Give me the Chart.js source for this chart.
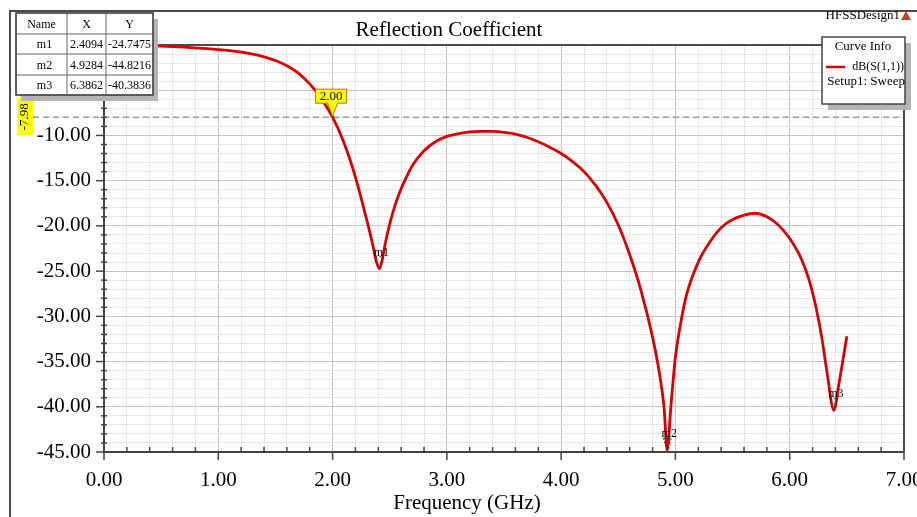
<!DOCTYPE html>
<html><head><meta charset="utf-8">
<script src="https://cdn.jsdelivr.net/npm/chart.js@4.4.0/dist/chart.umd.min.js"></script>
<style>html,body{margin:0;padding:0;background:#fff;overflow:hidden}</style>
</head><body>
<canvas id="c" width="917" height="517"></canvas>
<script>
// ---- data ----
const freqGHz = [0.1,0.3,0.5,0.7,0.9,1.0,1.1,1.2,1.3,1.4,1.5,1.6,1.7,1.8,1.9,2.0,2.1,2.2,2.3,2.35,2.38,2.4094,2.43,2.46,2.5,2.55,2.6,2.65,2.7,2.8,2.9,3.0,3.1,3.2,3.3,3.4,3.5,3.6,3.7,3.8,3.9,4.0,4.1,4.2,4.3,4.4,4.5,4.6,4.7,4.8,4.86,4.9,4.9284,4.96,5.0,5.05,5.1,5.2,5.3,5.4,5.5,5.6,5.7,5.8,5.9,6.0,6.1,6.17,6.23,6.28,6.33,6.3862,6.43,6.47,6.5];
const s11dB = [-0.02,-0.06,-0.13,-0.24,-0.4,-0.5,-0.63,-0.8,-1.02,-1.32,-1.72,-2.3,-3.1,-4.3,-5.9,-7.98,-10.8,-14.6,-19.4,-22.0,-23.8,-24.7475,-24.0,-22.0,-19.8,-17.6,-15.9,-14.5,-13.3,-11.7,-10.7,-10.1,-9.8,-9.6,-9.55,-9.55,-9.65,-9.85,-10.2,-10.7,-11.3,-12.0,-12.9,-14.0,-15.5,-17.4,-19.9,-23.2,-27.2,-32.3,-36.3,-40.0,-44.8216,-40.0,-34.5,-30.5,-27.5,-24.0,-21.8,-20.2,-19.3,-18.8,-18.6,-19.0,-19.9,-21.4,-23.6,-26.0,-29.0,-32.3,-36.5,-40.3836,-37.5,-34.5,-32.2];
const markerNames = ['m1','m2','m3'];
const markerX = [2.4094, 4.9284, 6.3862];
const markerY = [-24.7475, -44.8216, -40.3836];
const cutFreq = 2.00;
const cutLevel = -7.98;
const xMajorTicks = [0,1,2,3,4,5,6,7];
const yMajorTicks = [-45,-40,-35,-30,-25,-20,-15,-10];
const seriesName = 'dB(S(1,1))';
const setupName = 'Setup1: Sweep';

const SERIF = "'Liberation Serif', 'Times New Roman', serif";
const isXMajor = v => xMajorTicks.some(t => Math.abs(t - v) < 1e-6);
const isYMajor = v => Math.abs(v / 5 - Math.round(v / 5)) < 1e-6;

const overlay = {
  id: 'overlay',
  beforeDatasetsDraw(chart) {
    const ctx = chart.ctx, a = chart.chartArea;
    const xs = chart.scales.x, ys = chart.scales.y;
    ctx.save();
    // dashed cut line
    const yc = ys.getPixelForValue(cutLevel);
    ctx.strokeStyle = '#9a9a9a'; ctx.lineWidth = 1.5; ctx.setLineDash([6,4]);
    ctx.beginPath(); ctx.moveTo(33, yc); ctx.lineTo(a.right, yc); ctx.stroke();
    ctx.setLineDash([]);
    // tick marks
    ctx.strokeStyle = '#444'; ctx.lineWidth = 1.5;
    xs.ticks.forEach(t => {
      const px = xs.getPixelForValue(t.value);
      ctx.beginPath();
      if (isXMajor(t.value)) { ctx.moveTo(px, a.bottom); ctx.lineTo(px, a.bottom + 8); }
      else { ctx.moveTo(px, a.bottom); ctx.lineTo(px, a.bottom - 5); }
      ctx.stroke();
    });
    ys.ticks.forEach(t => {
      const py = ys.getPixelForValue(t.value);
      ctx.beginPath();
      if (isYMajor(t.value)) { ctx.moveTo(a.left - 8, py); ctx.lineTo(a.left, py); }
      else { ctx.moveTo(a.left - 3, py); ctx.lineTo(a.left + 3, py); }
      ctx.stroke();
    });
    // plot frame top/right
    ctx.strokeStyle = '#4a4a4a'; ctx.lineWidth = 2;
    ctx.beginPath(); ctx.moveTo(a.left, a.top); ctx.lineTo(a.right, a.top); ctx.lineTo(a.right, a.bottom); ctx.stroke();
    ctx.restore();
  },
  afterDraw(chart) {
    const ctx = chart.ctx, a = chart.chartArea;
    const xs = chart.scales.x, ys = chart.scales.y;
    ctx.save();
    // outer frame
    ctx.strokeStyle = '#4a4a4a'; ctx.lineWidth = 2;
    ctx.beginPath(); ctx.moveTo(917, 11); ctx.lineTo(10, 11); ctx.lineTo(10, 517); ctx.stroke();
    // titles
    ctx.fillStyle = '#000'; ctx.textAlign = 'center'; ctx.textBaseline = 'middle';
    ctx.font = '21px ' + SERIF;
    ctx.fillText('Reflection Coefficient', 449, 30);
    ctx.fillText('Frequency (GHz)', 467, 503);
    // HFSSDesign1
    ctx.font = '13px ' + SERIF; ctx.textAlign = 'right';
    ctx.fillText('HFSSDesign1', 900, 16);
    ctx.fillStyle = '#d23c1e';
    ctx.beginPath(); ctx.moveTo(906, 11); ctx.lineTo(911, 20); ctx.lineTo(901, 20); ctx.closePath(); ctx.fill();
    // markers on curve
    ctx.font = '12px ' + SERIF; ctx.textAlign = 'center'; ctx.textBaseline = 'alphabetic';
    markerNames.forEach((n, i) => {
      const px = xs.getPixelForValue(markerX[i]), py = ys.getPixelForValue(markerY[i]);
      ctx.strokeStyle = '#333'; ctx.lineWidth = 1; ctx.setLineDash([2,2]);
      ctx.beginPath(); ctx.moveTo(px - 4, py - 12); ctx.lineTo(px + 4, py - 12); ctx.lineTo(px, py); ctx.closePath(); ctx.stroke();
      ctx.setLineDash([]);
      ctx.fillStyle = '#000';
      ctx.fillText(n, px + 2, py - 13);
    });
    // cut callout "2.00"
    const cx = xs.getPixelForValue(cutFreq), cy = ys.getPixelForValue(cutLevel);
    ctx.fillStyle = '#ffff00'; ctx.strokeStyle = '#c07010'; ctx.lineWidth = 1;
    ctx.beginPath();
    ctx.moveTo(cx - 17, cy - 28); ctx.lineTo(cx + 14, cy - 28); ctx.lineTo(cx + 14, cy - 14);
    ctx.lineTo(cx + 5, cy - 14); ctx.lineTo(cx, cy - 1); ctx.lineTo(cx - 5, cy - 14);
    ctx.lineTo(cx - 17, cy - 14); ctx.closePath(); ctx.fill(); ctx.stroke();
    ctx.fillStyle = '#000'; ctx.font = '13px ' + SERIF; ctx.textBaseline = 'middle';
    ctx.fillText(cutFreq.toFixed(2), cx - 1.5, cy - 21);
    // level label "-7.98"
    ctx.fillStyle = '#ffff00';
    ctx.fillRect(17, cy - 19, 16, 37);
    ctx.save(); ctx.translate(25, cy - 0.5); ctx.rotate(-Math.PI / 2);
    ctx.fillStyle = '#000'; ctx.fillText(cutLevel.toFixed(2), 0, 0); ctx.restore();
    // marker table
    const cols = [16, 67, 106, 153], rows = [13, 34, 54, 75, 95];
    ctx.fillStyle = '#b4b4b4'; ctx.fillRect(cols[0] + 5, rows[0] + 6, cols[3] - cols[0], rows[4] - rows[0]);
    ctx.fillStyle = '#fff'; ctx.fillRect(cols[0], rows[0], cols[3] - cols[0], rows[4] - rows[0]);
    ctx.strokeStyle = '#666'; ctx.lineWidth = 1;
    cols.forEach(x => { ctx.beginPath(); ctx.moveTo(x, rows[0]); ctx.lineTo(x, rows[4]); ctx.stroke(); });
    rows.forEach(y => { ctx.beginPath(); ctx.moveTo(cols[0], y); ctx.lineTo(cols[3], y); ctx.stroke(); });
    ctx.strokeStyle = '#444'; ctx.lineWidth = 1.5;
    ctx.strokeRect(cols[0], rows[0], cols[3] - cols[0], rows[4] - rows[0]);
    ctx.fillStyle = '#000'; ctx.font = '12px ' + SERIF; ctx.textAlign = 'center'; ctx.textBaseline = 'middle';
    const hdr = ['Name', 'X', 'Y'];
    hdr.forEach((h, j) => ctx.fillText(h, (cols[j] + cols[j + 1]) / 2, (rows[0] + rows[1]) / 2 + 1));
    markerNames.forEach((n, i) => {
      const yy = (rows[i + 1] + rows[i + 2]) / 2 + 1;
      ctx.fillText(n, (cols[0] + cols[1]) / 2 + 3, yy);
      ctx.fillText(markerX[i].toFixed(4), (cols[1] + cols[2]) / 2, yy);
      ctx.fillText(markerY[i].toFixed(4), (cols[2] + cols[3]) / 2, yy);
    });
    // curve info legend
    ctx.fillStyle = '#b4b4b4'; ctx.fillRect(828, 43, 83, 67);
    ctx.fillStyle = '#fff'; ctx.fillRect(822, 37, 83, 67);
    ctx.strokeStyle = '#444'; ctx.lineWidth = 1.5; ctx.strokeRect(822, 37, 83, 67);
    ctx.fillStyle = '#000'; ctx.font = '13px ' + SERIF;
    ctx.fillText('Curve Info', 863, 47);
    ctx.strokeStyle = '#d40000'; ctx.lineWidth = 2.5;
    ctx.beginPath(); ctx.moveTo(826, 67); ctx.lineTo(845, 67); ctx.stroke();
    ctx.textAlign = 'right'; ctx.font = '12px ' + SERIF;
    ctx.fillText(seriesName, 904, 67);
    ctx.font = '13px ' + SERIF;
    ctx.fillText(setupName, 905, 82);
    ctx.restore();
  }
};

new Chart(document.getElementById('c'), {
  type: 'line',
  data: {
    datasets: [{
      label: seriesName,
      data: freqGHz.map((f, i) => ({ x: f, y: s11dB[i] })),
      borderColor: '#d80000',
      borderWidth: 2.8,
      pointRadius: 0,
      cubicInterpolationMode: 'monotone',
      fill: false
    }]
  },
  options: {
    responsive: false,
    animation: false,
    devicePixelRatio: 1,
    layout: { padding: { left: 0, right: 13, top: 45, bottom: 0 } },
    plugins: { legend: { display: false }, title: { display: false }, tooltip: { enabled: false } },
    scales: {
      x: {
        type: 'linear', min: 0, max: 7,
        ticks: {
          stepSize: 0.2, maxTicksLimit: 100, autoSkip: false, maxRotation: 0, minRotation: 0,
          font: { family: SERIF, size: 21 }, color: '#000', padding: 16,
          callback: v => isXMajor(v) ? Number(v).toFixed(2) : ''
        },
        grid: {
          drawTicks: false,
          color: c => (c.tick && isXMajor(c.tick.value)) ? '#c4c4c4' : '#e6e6e6',
          lineWidth: 1
        },
        border: { display: true, color: '#444', width: 2 },
        afterFit: s => { s.height = 65; s.paddingLeft = 0; s.paddingRight = 0; }
      },
      y: {
        type: 'linear', min: -45, max: 0,
        ticks: {
          stepSize: 1, maxTicksLimit: 100, autoSkip: false,
          font: { family: SERIF, size: 21 }, color: '#000', padding: 13,
          callback: v => (isYMajor(v) && yMajorTicks.includes(Math.round(v))) ? Number(v).toFixed(2) : ''
        },
        grid: {
          drawTicks: false,
          color: c => (c.tick && isYMajor(c.tick.value)) ? '#c4c4c4' : '#e6e6e6',
          lineWidth: 1
        },
        border: { display: true, color: '#444', width: 2 },
        afterFit: s => { s.width = 104; s.paddingTop = 0; s.paddingBottom = 0; }
      }
    }
  },
  plugins: [overlay]
});
</script>
</body></html>
